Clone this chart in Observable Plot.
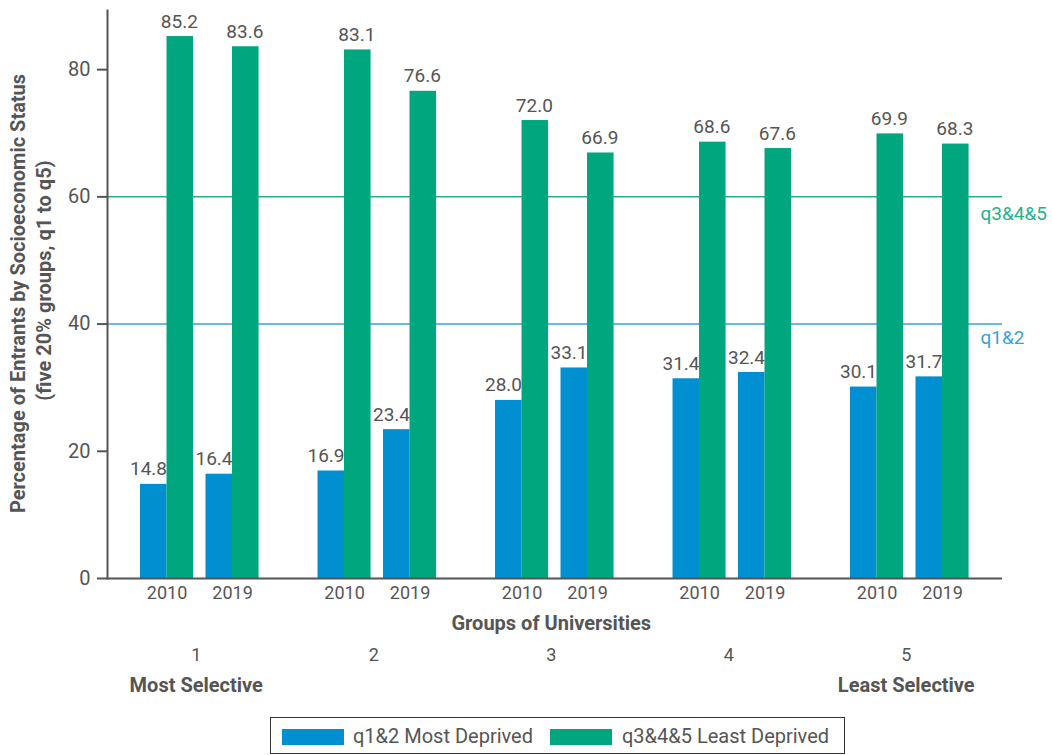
<!DOCTYPE html>
<html>
<head>
<meta charset="utf-8">
<script src="https://cdn.jsdelivr.net/npm/d3@7"></script>
<script src="https://cdn.jsdelivr.net/npm/@observablehq/plot@0.6"></script>
<style>
  html, body { margin: 0; padding: 0; background: #fff; }
  body { width: 1052px; height: 755px; overflow: hidden; font-family: Roboto, "Noto Sans", sans-serif; }
  #chart svg { display: block; }
  .legend {
    position: absolute; left: 270px; top: 717px; width: 575px; height: 37px;
    border: 1px solid #333; box-sizing: border-box; font-size: 20px; color: #555;
  }
  .legend .sw { position: absolute; top: 11px; width: 62px; height: 16px; }
  .legend .lab { position: absolute; top: 6px; white-space: nowrap; }
</style>
</head>
<body>
<div id="chart"></div>
<div class="legend" id="legend"></div>
<script>
const groups = ["1", "2", "3", "4", "5"];
const years = ["2010", "2019"];
const q12 = [14.8, 16.4, 16.9, 23.4, 28.0, 33.1, 31.4, 32.4, 30.1, 31.7];
const q345 = [85.2, 83.6, 83.1, 76.6, 72.0, 66.9, 68.6, 67.6, 69.9, 68.3];
const seriesNames = ["q1&2 Most Deprived", "q3&4&5 Least Deprived"];
const seriesColors = ["#008fd0", "#00a77e"];
const refValues = [60, 40];
const refLabels = ["q3&4&5", "q1&2"];
const refColors = ["#26b08c", "#3aa2d8"];
const groupNotes = [{group: "1", note: "Most Selective"}, {group: "5", note: "Least Selective"}];
const yTicks = [0, 20, 40, 60, 80];

const rows = [];
groups.forEach((g, gi) => years.forEach((yr, yi) => {
  const k = gi * years.length + yi;
  rows.push({group: g, year: yr, q12: q12[k], q345: q345[k]});
}));
const firstGroup = groups[0];
const lastGroup = groups[groups.length - 1];
const refRules = refValues.map((v, i) => ({value: v, color: refColors[i], group: firstGroup}));
const refTexts = refValues.map((v, i) => ({value: v, label: refLabels[i], color: refColors[i], group: lastGroup}));
const baseRule = [{value: 0, group: firstGroup}];

const gray = "#555";
const half = 26.5;
const stretch = -717.5; // carry the first facet's rules across the whole frame

const chart = Plot.plot({
  width: 1052,
  height: 700,
  marginLeft: 107,
  marginRight: 57.5,
  marginTop: 10,
  marginBottom: 122,
  style: {fontFamily: "Roboto, 'Noto Sans', sans-serif", fontSize: "18px", color: gray, background: "#fff"},
  fx: {domain: groups, paddingInner: 0, paddingOuter: 0, round: false, label: null},
  x: {domain: years, paddingInner: 0.19, paddingOuter: 0.45, align: 0.56, round: false, label: null},
  y: {domain: [0, 89.3], label: null},
  marks: [
    Plot.ruleY(refRules, {fx: "group", y: "value", stroke: "color", strokeWidth: 1.5, insetRight: stretch}),
    Plot.text([refTexts[0]], {fx: "group", y: "value", text: "label", fill: refTexts[0].color, frameAnchor: "right", textAnchor: "start", dx: -14.5, dy: 17, fontSize: 19}),
    Plot.text([refTexts[1]], {fx: "group", y: "value", text: "label", fill: refTexts[1].color, frameAnchor: "right", textAnchor: "start", dx: -14.5, dy: 14, fontSize: 19}),
    Plot.barY(rows, {fx: "group", x: "year", y: "q12", fill: seriesColors[0], insetRight: half}),
    Plot.text(rows, {fx: "group", x: "year", y: "q12", text: d => d.q12.toFixed(1), textAnchor: "end", dx: 0, dy: -15, fill: gray, fontSize: 19}),
    Plot.barY(rows, {fx: "group", x: "year", y: "q345", fill: seriesColors[1], insetLeft: half}),
    Plot.text(rows, {fx: "group", x: "year", y: "q345", text: d => d.q345.toFixed(1), dx: half / 2 - 1, dy: -15, fill: gray, fontSize: 19}),
    Plot.axisY({ticks: yTicks, tickSize: 10, tickPadding: 7, stroke: gray, strokeWidth: 2, color: gray, fontSize: 20, label: null}),
    Plot.axisX({tickSize: 0, tickPadding: 8, color: gray, fontSize: 18, label: null}),
    Plot.axisFx({anchor: "bottom", tickSize: 0, tickPadding: 70, color: gray, fontSize: 18, label: null}),
    Plot.text(groupNotes, {fx: "group", text: "note", frameAnchor: "bottom", dy: 113, fontWeight: "bold", fontSize: 20, fill: gray}),
    Plot.text(["Groups of Universities"], {text: d => d, frameAnchor: "bottom", dy: 51, fontWeight: "bold", fontSize: 20, fill: gray, facet: "super"}),
    Plot.text(["Percentage of Entrants by Socioeconomic Status"], {text: d => d, frameAnchor: "left", textAnchor: "middle", rotate: -90, dx: -89, dy: -1, fontWeight: "bold", fontSize: 20, fill: gray, facet: "super"}),
    Plot.text(["(five 20% groups, q1 to q5)"], {text: d => d, frameAnchor: "left", textAnchor: "middle", rotate: -90, dx: -63, dy: -14, fontWeight: "bold", fontSize: 20, fill: gray, facet: "super"}),
    Plot.ruleY(baseRule, {fx: "group", y: "value", stroke: gray, strokeWidth: 2, insetRight: stretch}),
    Plot.frame({anchor: "left", stroke: gray, strokeWidth: 2, facet: "super"})
  ]
});
document.getElementById("chart").appendChild(chart);

const legend = document.getElementById("legend");
const swatchLeft = [11, 279];
const labelLeft = [82, 351];
seriesNames.forEach((name, i) => {
  const sw = document.createElement("span");
  sw.className = "sw";
  sw.style.left = swatchLeft[i] + "px";
  sw.style.background = seriesColors[i];
  const label = document.createElement("span");
  label.className = "lab";
  label.style.left = labelLeft[i] + "px";
  label.textContent = name;
  legend.appendChild(sw);
  legend.appendChild(label);
});
</script>
</body>
</html>
